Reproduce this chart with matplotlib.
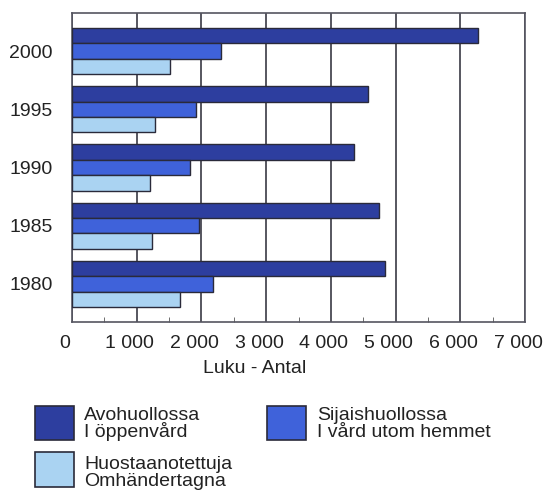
import numpy as np
import matplotlib
matplotlib.use("Agg")
import matplotlib.pyplot as plt
import matplotlib.transforms as mtransforms
from matplotlib.patches import Rectangle
from matplotlib.ticker import MultipleLocator, FuncFormatter

plt.rcParams["font.family"] = ["Liberation Sans", "DejaVu Sans"]

# Data (1980 at the bottom)
vuodet = ["1980", "1985", "1990", "1995", "2000"]
avohuolto = [4830, 4740, 4350, 4580, 6280]
sijaishuolto = [2180, 1970, 1820, 1910, 2310]
huostaanotetut = [1670, 1230, 1210, 1290, 1510]

nimet = ["Avohuollossa\nI öppenvård",
         "Sijaishuollossa\nI vård utom hemmet",
         "Huostaanotettuja\nOmhändertagna"]
varit = ["#2D3E9F", "#3F62DA", "#AAD3F2"]

fig = plt.figure(figsize=(5.45, 4.91), dpi=100)
ax = fig.add_axes([72 / 545, 1 - 322 / 491, 453 / 545, 309 / 491])

y = np.arange(len(vuodet))
h = 0.265

# Three bars per year: dark on top, light at the bottom
for i, arvot in enumerate([avohuolto, sijaishuolto, huostaanotetut]):
    ax.barh(y + (1 - i) * h, arvot, height=h, color=varit[i],
            edgecolor="#2a2a3a", linewidth=1.0, zorder=3)

ax.set_xlim(0, 7000)
ax.set_ylim(-0.655, len(vuodet) - 1 + 0.655)

# Axes look
ax.xaxis.set_major_locator(MultipleLocator(1000))
ax.xaxis.set_minor_locator(MultipleLocator(500))
ax.xaxis.set_major_formatter(FuncFormatter(lambda v, p: f"{int(v):,}".replace(",", " ")))
ax.grid(axis="x", color="#3a3a44", linewidth=1.2, zorder=1)
ax.tick_params(axis="x", which="major", length=0, pad=9, labelsize=14, labelcolor="#222222")
ax.tick_params(axis="x", which="minor", direction="in", length=3.5, color="#555555")
ax.set_yticks(y)
ax.set_yticklabels(vuodet)
ax.tick_params(axis="y", length=0, pad=14, labelsize=14, labelcolor="#222222")
for s in ax.spines.values():
    s.set_color("#555560")
    s.set_linewidth(1.2)

# x tick labels sit a little left of their ticks in the reference
siirto = mtransforms.ScaledTranslation(-7 / 100, 0, fig.dpi_scale_trans)
for lbl in ax.get_xticklabels():
    lbl.set_transform(lbl.get_transform() + siirto)

ax.set_xlabel("Luku - Antal", fontsize=14, color="#222222")
ax.xaxis.set_label_coords(0.404, -0.149)
ax.xaxis.label.set_va("center")

# Legend below the chart
laatikot = [(35, 406, 440), (267, 406, 440), (35, 452, 487)]
tekstit = [(84, 424), (317, 424), (84, 473)]
for i in range(3):
    x0, yt, yb = laatikot[i]
    fig.add_artist(Rectangle((x0 / 545, 1 - yb / 491), 39 / 545, (yb - yt) / 491,
                             transform=fig.transFigure, facecolor=varit[i],
                             edgecolor="#2a2a3a", linewidth=1.2))
    tx, ty = tekstit[i]
    fig.text(tx / 545, 1 - ty / 491, nimet[i], fontsize=14, color="#222222",
             va="center", ha="left", linespacing=0.93)

plt.savefig("out.png", dpi=100)
